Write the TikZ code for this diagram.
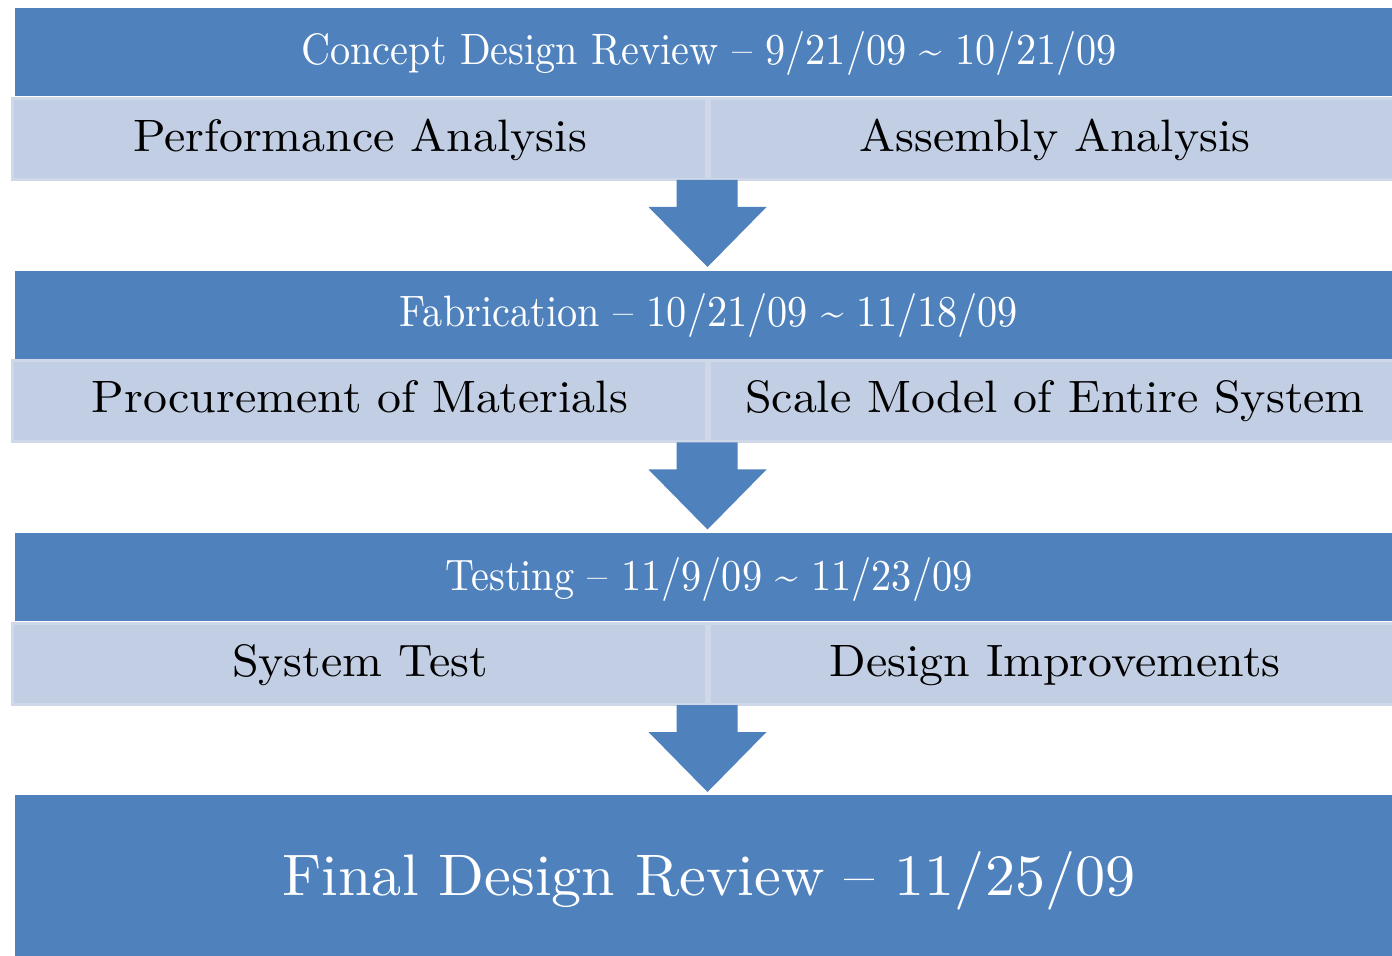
\documentclass[tikz,border=0pt]{standalone}
\usepackage{fontspec}
\usetikzlibrary{calc}
% Latin Modern at its 10pt design size, set wide or narrow per text level
\newfontfamily\hdrfamily{lmroman10-regular.otf}[Ligatures=TeX, FakeStretch=0.915]
\newfontfamily\subfamily{lmroman10-regular.otf}[Ligatures=TeX, FakeStretch=1.055]
\newfontfamily\finfamily{lmroman10-regular.otf}[Ligatures=TeX, FakeStretch=1.026]
\definecolor{hdrblue}{HTML}{4F81BD}
\definecolor{subfill}{HTML}{C2CEE3}
\definecolor{subedge}{HTML}{CFD8E9}
\tikzset{
  hdrbox/.style={fill=hdrblue, draw=none, inner sep=0pt, anchor=north west,
    minimum width=688.5pt, minimum height=44pt},
  subbox/.style={fill=subfill, draw=subedge, line width=1.5pt, inner sep=0pt,
    anchor=north west, minimum height=40.5pt},
  finalbox/.style={fill=hdrblue, draw=none, inner sep=0pt, anchor=north west,
    minimum width=688.5pt, minimum height=80.5pt},
  hdrtext/.style={anchor=base, inner sep=0pt, text=white,
    font=\hdrfamily\fontsize{22}{26}\selectfont},
  subtext/.style={anchor=base, inner sep=0pt, text=black,
    font=\subfamily\fontsize{22.7}{27}\selectfont},
  fintext/.style={anchor=base, inner sep=0pt, text=white,
    font=\finfamily\fontsize{29.3}{34}\selectfont}
}
% block arrow hanging from a coordinate at the bottom of a stage
\newcommand\stagearrow[1]{%
  \fill[hdrblue] ($(#1)+(-15.5pt,0)$) -- ++(30.5pt,0) -- ++(0,-13.5pt)
    -- ++(14.5pt,0) -- ($(#1)+(0,-43.5pt)$) -- ($(#1)+(-29.5pt,-13.5pt)$)
    -- ++(14pt,0) -- cycle;}
\begin{document}
\begin{tikzpicture}[x=0.5pt,y=-0.5pt]
\useasboundingbox[fill=white] (0,0) rectangle (1392,956);

% stage 1
\node[hdrbox] (h1) at (15,8) {};
\node[hdrtext] (h1t) at (709,65) {Concept Design Review -- 9/21/09 \textasciitilde{} 10/21/09};
\node[subbox, minimum width=347pt] (s1a) at (10.75,96.75) {};
\node[subbox, minimum width=342pt] (s1b) at (707.75,96.75) {};
\node[subtext] (s1at) at (360,152) {Performance Analysis};
\node[subtext] (s1bt) at (1055,152) {Assembly Analysis};

% stage 2
\node[hdrbox] (h2) at (15,270.5) {};
\node[hdrtext] (h2t) at (709,327) {Fabrication -- 10/21/09 \textasciitilde{} 11/18/09};
\node[subbox, minimum width=347pt] (s2a) at (10.75,359.25) {};
\node[subbox, minimum width=342pt] (s2b) at (707.75,359.25) {};
\node[subtext] (s2at) at (360,413) {Procurement of Materials};
\node[subtext] (s2bt) at (1055,413) {Scale Model of Entire System};

% stage 3
\node[hdrbox] (h3) at (15,533) {};
\node[hdrtext] (h3t) at (709,590) {Testing -- 11/9/09 \textasciitilde{} 11/23/09};
\node[subbox, minimum width=347pt] (s3a) at (10.75,621.75) {};
\node[subbox, minimum width=342pt] (s3b) at (707.75,621.75) {};
\node[subtext] (s3at) at (360,676) {System Test};
\node[subtext] (s3bt) at (1055,676) {Design Improvements};

% final review
\node[finalbox] (fin) at (15,795) {};
\node[fintext] (fint) at (709,895) {Final Design Review -- 11/25/09};

% arrows between stages
\coordinate (a1) at (707.5,180);
\coordinate (a2) at (707.5,442.5);
\coordinate (a3) at (707.5,705);
\stagearrow{a1}
\stagearrow{a2}
\stagearrow{a3}
\end{tikzpicture}
\end{document}
